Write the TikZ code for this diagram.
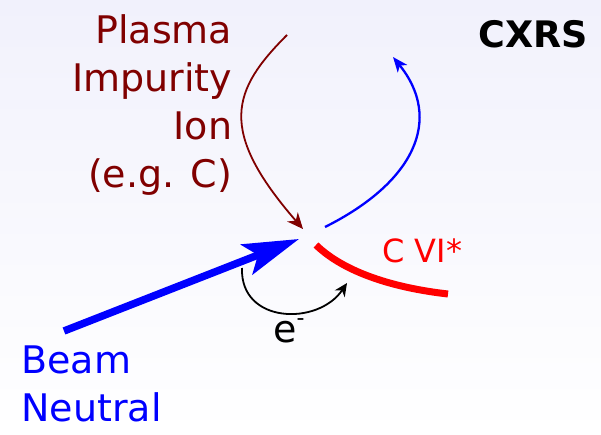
\documentclass[tikz,border=0pt]{standalone}
\usepackage{fontspec}
\setmainfont{DejaVu Sans}
\usetikzlibrary{arrows.meta}
\definecolor{bgtop}{RGB}{241,241,252}
\definecolor{ionbrown}{RGB}{128,0,0}
\begin{document}
\begin{tikzpicture}[x=1pt,y=-1pt,
  bigtext/.style={inner sep=0pt, font=\fontsize{38}{48}\selectfont},
  thinarrow/.style={line width=#1, -{Stealth[length=15pt,width=12pt,inset=4pt]}},
  thinarrow/.default=2pt]
\useasboundingbox (0,0) rectangle (601,435);
\shade[top color=bgtop, bottom color=white] (0,0) rectangle (601,435);

% texts
\node[bigtext, text=ionbrown, align=right, anchor=base east] (ion) at (232.3,188) {Plasma\\Impurity\\Ion\\(e.g. C)};
\node[bigtext, text=blue, align=left, anchor=base west] (beam) at (21.3,421) {Beam\\Neutral};
\node[inner sep=0pt, font=\bfseries\fontsize{36.5}{42}\selectfont, anchor=base west] (cxrs) at (478.2,47.3) {CXRS};
\node[inner sep=0pt, font=\fontsize{32}{38}\selectfont, text=red, anchor=base west] (cvi) at (382,262.7) {C VI*};
\node[bigtext, anchor=base west] (elec) at (273,342.5) {e\raisebox{17pt}{\fontsize{22}{22}\selectfont -}};

% coordinates
\coordinate (ionstart) at (287,35);
\coordinate (ionend) at (303,229);
\coordinate (outstart) at (325,227);
\coordinate (outend) at (393,57);
\coordinate (beamstart) at (64,331);
\coordinate (beamtip) at (299,239);
\coordinate (cvistart) at (316,245);
\coordinate (cviend) at (448,294);
\coordinate (estart) at (242,268);
\coordinate (eend) at (347,283);

% connectors
\draw[ionbrown, line width=1.8pt, -{Stealth[length=16pt,width=14pt,inset=5pt]}]
  (ionstart) .. controls (232,90) and (217,130) .. (ionend);
\draw[blue, thinarrow=2.3pt] (outstart) .. controls (415,182) and (443,119) .. (outend);
\draw[blue, line width=7.5pt, -{Stealth[length=56pt,width=32pt,inset=12pt]}] (beamstart) -- (beamtip);
\draw[red, line width=7pt] (cvistart) .. controls (345,273) and (395,288) .. (cviend);
\draw[black, line width=1.8pt, -{Stealth[length=13pt,width=12pt,inset=4pt]}]
  (estart) .. controls (240,324) and (318,326) .. (eend);
\end{tikzpicture}
\end{document}
